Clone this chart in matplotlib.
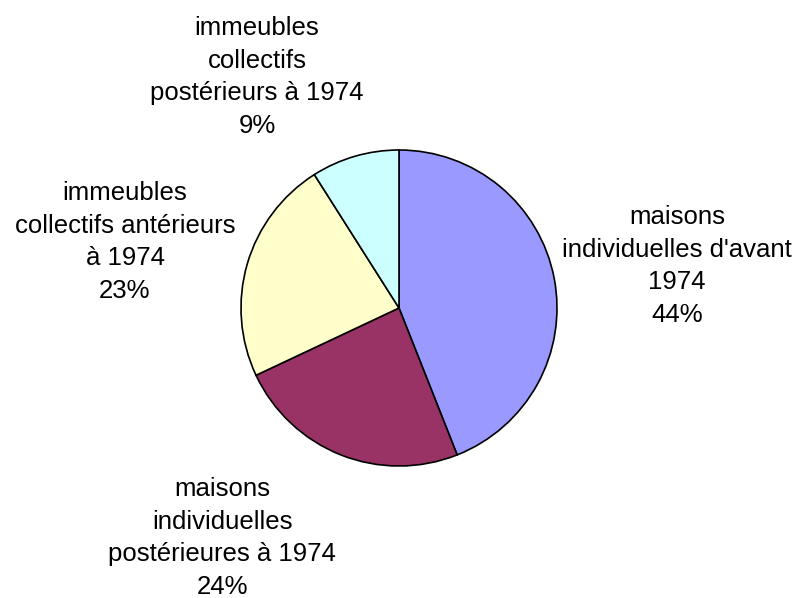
import matplotlib
matplotlib.use("Agg")
import matplotlib.pyplot as plt

# data
categories = ["maisons\nindividuelles d'avant\n1974",
              "maisons\nindividuelles\npostérieures à 1974",
              "immeubles\ncollectifs antérieurs\nà 1974",
              "immeubles\ncollectifs\npostérieurs à 1974"]
shares = [44, 24, 23, 9]
colors = ["#9999FF", "#993366", "#FFFFCC", "#CCFFFF"]

# label anchor points in pixels (x, y from top)
label_pos = [(677, 266), (222, 538), (125, 242), (257, 77)]

W, H = 793, 598
plt.rcParams['font.family'] = ['Liberation Sans', 'DejaVu Sans']

fig = plt.figure(figsize=(W / 100, H / 100), dpi=100)
ax = fig.add_axes([0, 0, 1, 1])
ax.set_xlim(0, W)
ax.set_ylim(0, H)
ax.set_aspect('equal')
ax.axis('off')

ax.pie(shares, colors=colors, startangle=90, counterclock=False,
       center=(399, H - 308), radius=158,
       wedgeprops=dict(edgecolor='black', linewidth=1.2))
ax.set_xlim(0, W)
ax.set_ylim(0, H)

total = sum(shares)
for name, val, (x, y) in zip(categories, shares, label_pos):
    txt = "{}\n{:.0f}%".format(name, 100.0 * val / total)
    ax.text(x, H - y, txt, ha='center', va='center', fontsize=18.5,
            linespacing=1.46, color='black')

fig.savefig("out.png", dpi=100, facecolor='white')
